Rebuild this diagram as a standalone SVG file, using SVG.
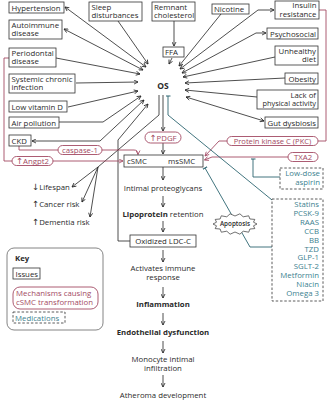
<svg xmlns="http://www.w3.org/2000/svg" width="331" height="400" viewBox="0 0 331 400">
<style>
text{font-family:"Open Sans","Liberation Sans",sans-serif;font-size:7.8px;fill:#2a2a2a}
.ar{font-family:"DejaVu Sans",sans-serif;font-size:8.5px}
.b{fill:#fff;stroke:#333;stroke-width:0.8}
.p{fill:#fff;stroke:#a34a63;stroke-width:0.9}
.d{fill:#fff;stroke:#333;stroke-width:0.8;stroke-dasharray:2.5 1.8}
.m{fill:#a34a63}
.t{fill:#3d7f8f}
.r{text-anchor:end}
.c{text-anchor:middle}
.bd{font-weight:bold}
.k{fill:none;stroke:#222;stroke-width:0.8}
.km{fill:none;stroke:#a34a63;stroke-width:0.9}
.kt{fill:none;stroke:#2d6570;stroke-width:0.9}
</style>
<defs>
<marker id="a" viewBox="0 0 10 10" refX="9" refY="5" markerWidth="5" markerHeight="5" markerUnits="userSpaceOnUse" orient="auto-start-reverse"><path d="M1,1 L9,5 L1,9" fill="none" stroke="#222" stroke-width="1.6"/></marker>
<marker id="am" viewBox="0 0 10 10" refX="9" refY="5" markerWidth="5" markerHeight="5" markerUnits="userSpaceOnUse" orient="auto-start-reverse"><path d="M1,1 L9,5 L1,9" fill="none" stroke="#a34a63" stroke-width="1.6"/></marker>
<marker id="tb" viewBox="0 0 4 10" refX="2" refY="5" markerWidth="2" markerHeight="5" markerUnits="userSpaceOnUse" orient="auto"><path d="M2,0 L2,10" fill="none" stroke="#2d6570" stroke-width="2"/></marker>
</defs>

<g id="connectors">
<path class="k" d="M65,7 L146,67" marker-start="url(#a)" marker-end="url(#a)"/>
<path class="k" d="M118,21 L148,64" marker-end="url(#a)"/>
<path class="k" d="M64,29 L143,70" marker-start="url(#a)" marker-end="url(#a)"/>
<path class="k" d="M56,58 L140,74" marker-end="url(#a)"/>
<path class="k" d="M76,83 L138,82" marker-end="url(#a)"/>
<path class="k" d="M68,107 L138,91" marker-end="url(#a)"/>
<path class="k" d="M59,122 L103,122 L141,96" marker-end="url(#a)"/>
<path class="k" d="M32,141 L100,141 L144,100" marker-start="url(#a)" marker-end="url(#a)"/>
<path class="k" d="M130,241 L118,241 L118,140 L148,104" marker-end="url(#a)"/>
<path class="k" d="M221,14 L179,66" marker-end="url(#a)"/>
<path class="k" d="M274,10 L258,10 L180,69" marker-start="url(#a)" marker-end="url(#a)"/>
<path class="k" d="M266,33 L256,33 L182,73" marker-start="url(#a)" marker-end="url(#a)"/>
<path class="k" d="M275,57 L183,77" marker-end="url(#a)"/>
<path class="k" d="M285,78 L185,83" marker-end="url(#a)"/>
<path class="k" d="M257,97 L185,90" marker-end="url(#a)"/>
<path class="k" d="M186,97 L264,121" marker-start="url(#a)" marker-end="url(#a)"/>
<path class="k" d="M174,21 L174,46" marker-end="url(#a)"/>
<path class="k" d="M172,58 L169,64" marker-end="url(#a)"/>
<path class="k" d="M159,95 L159,115 L98,167 L72,187" marker-end="url(#a)"/>
<path class="k" d="M98,167 L82,202" marker-end="url(#a)"/>
<path class="k" d="M98,167 L90,217" marker-end="url(#a)"/>
<path class="k" d="M163,95 L163,131" marker-end="url(#a)"/>
<path class="k" d="M163,143 L163,154" marker-end="url(#a)"/>
<path class="k" d="M151,161 L166,161" marker-end="url(#a)"/>
<path class="k" d="M163,167 L163,180" marker-end="url(#a)"/>
<path class="k" d="M163,196 L163,207" marker-end="url(#a)"/>
<path class="k" d="M163,221 L163,232" marker-end="url(#a)"/>
<path class="k" d="M163,250 L163,262" marker-end="url(#a)" stroke-width="1.1"/>
<path class="k" d="M163,287 L163,298" marker-end="url(#a)"/>
<path class="k" d="M163,313 L163,325" marker-end="url(#a)"/>
<path class="k" d="M163,341 L163,353" marker-end="url(#a)"/>
<path class="k" d="M163,375 L163,387" marker-end="url(#a)"/>
<path class="km" d="M9,58 L4,58 L4,161 L123,161" marker-end="url(#am)"/>
<path class="km" d="M19,146 L19,150 L134,150 Q138,150 138,154.5" marker-end="url(#am)"/>
<path class="km" d="M319,10 L326,10 L326,141 L318,141"/>
<path class="km" d="M227,141 L219,141 L205,156" marker-end="url(#am)"/>
<path class="km" d="M288,157 L212,157 L204.5,160" marker-end="url(#am)"/>
<path class="kt" d="M272,200 L168,115 L168,96" marker-end="url(#tb)"/>
<path class="kt" d="M280,177 L253,177 L253,159" marker-end="url(#tb)"/>
<path class="kt" d="M303,247 L250,247 L205,168" marker-end="url(#tb)"/>
</g>

<g id="hypertension"><rect class="b" x="9" y="2" width="55" height="11"/><text x="11.5" y="10.5">Hypertension</text></g>
<g id="sleep"><rect class="b" x="89" y="2" width="53" height="19"/><text x="91.5" y="9.5">Sleep</text><text x="91.5" y="18">disturbances</text></g>
<g id="remnant"><rect class="b" x="152" y="2" width="43" height="19"/><text x="154" y="9.5">Remnant</text><text x="154" y="18">cholesterol</text></g>
<g id="nicotine"><rect class="b" x="212" y="4" width="37" height="10"/><text x="214" y="11.8">Nicotine</text></g>
<g id="insulin"><rect class="b" x="275" y="1" width="44" height="18"/><text class="r" x="316.5" y="8">Insulin</text><text class="r" x="316.5" y="16.5">resistance</text></g>
<g id="autoimmune"><rect class="b" x="9" y="20" width="53" height="19"/><text x="11.5" y="27.5">Autoimmune</text><text x="11.5" y="36">disease</text></g>
<g id="periodontal"><rect class="b" x="9" y="48" width="47" height="19"/><text x="11.5" y="55.5">Periodontal</text><text x="11.5" y="64">disease</text></g>
<g id="systemic"><rect class="b" x="9" y="74" width="66" height="19"/><text x="11.5" y="81.5">Systemic chronic</text><text x="11.5" y="90">infection</text></g>
<g id="vitd"><rect class="b" x="9" y="101" width="58" height="11"/><text x="11.5" y="109.5">Low vitamin D</text></g>
<g id="air"><rect class="b" x="9" y="117" width="50" height="11"/><text x="11.5" y="125.5">Air pollution</text></g>
<g id="ckd"><rect class="b" x="9" y="135" width="22" height="11"/><text x="11.5" y="143.5">CKD</text></g>
<g id="ffa"><rect class="b" x="163" y="47" width="21" height="10"/><text x="165" y="55">FFA</text></g>
<g id="psychosocial"><rect class="b" x="267" y="28" width="51" height="11"/><text class="r" x="316" y="36.5">Psychosocial</text></g>
<g id="diet"><rect class="b" x="275" y="46" width="43" height="19"/><text class="r" x="316" y="53.5">Unhealthy</text><text class="r" x="316" y="62">diet</text></g>
<g id="obesity"><rect class="b" x="285" y="73" width="33" height="11"/><text class="r" x="316" y="81.5">Obesity</text></g>
<g id="activity"><rect class="b" x="257" y="90" width="61" height="19"/><text class="r" x="316" y="97.5">Lack of</text><text class="r" x="316" y="106" style="font-size:7.4px">physical activity</text></g>
<g id="gut"><rect class="b" x="265" y="117" width="53" height="11"/><text class="r" x="316" y="125.5">Gut dysbiosis</text></g>
<g id="os"><text class="c bd" x="163" y="89" style="font-size:8.5px">OS</text></g>
<g id="pdgf"><rect class="p" x="145" y="132" width="36" height="11" rx="5.5"/><text class="c m" x="163" y="140.5"><tspan class="ar">↑</tspan>PDGF</text></g>
<g id="smc"><rect class="b" x="124" y="155" width="79" height="12"/><text x="127" y="164">cSMC</text><text x="168" y="164">msSMC</text></g>
<g id="caspase"><rect class="p" x="58" y="145.5" width="44" height="9" rx="4.5"/><text class="c m" x="80" y="153">caspase-1</text></g>
<g id="angpt2"><rect class="p" x="12" y="156.5" width="41" height="9" rx="4.5"/><text class="c m" x="32.5" y="164"><tspan class="ar">↑</tspan>Angpt2</text></g>
<g id="pkc"><rect class="p" x="227" y="136.5" width="91" height="9" rx="4.5"/><text class="c m" x="272.5" y="144" style="font-size:7.6px">Protein kinase C (PKC)</text></g>
<g id="txa2"><rect class="p" x="288" y="152.5" width="30" height="9" rx="4.5"/><text class="c m" x="303" y="160">TXA2</text></g>
<g id="aspirin"><rect class="d" x="280" y="168" width="43" height="21"/><text class="r t" x="320" y="176">Low-dose</text><text class="r t" x="320" y="185">aspirin</text></g>
<g id="medications"><rect class="d" x="272" y="199" width="51" height="102"/>
<text class="r t" x="319" y="207">Statins</text>
<text class="r t" x="319" y="215.9">PCSK-9</text>
<text class="r t" x="319" y="224.8">RAAS</text>
<text class="r t" x="319" y="233.7">CCB</text>
<text class="r t" x="319" y="242.6">BB</text>
<text class="r t" x="319" y="251.5">TZD</text>
<text class="r t" x="319" y="260.4">GLP-1</text>
<text class="r t" x="319" y="269.3">SGLT-2</text>
<text class="r t" x="319" y="278.2">Metformin</text>
<text class="r t" x="319" y="287.1">Niacin</text>
<text class="r t" x="319" y="296">Omega 3</text></g>
<g id="apoptosis"><path d="M257,224 L253.5,225.8 L254.8,228.6 L249.9,229 L248.7,232.2 L243.2,231.2 L239.9,234.2 L235,232 L230.1,234.2 L226.8,231.2 L221.3,232.2 L220.1,229 L215.2,228.6 L216.5,225.8 L213,224 L216.5,222.2 L215.2,219.4 L220.1,219 L221.3,215.8 L226.8,216.8 L230.1,213.8 L235,216 L239.9,213.8 L243.2,216.8 L248.7,215.8 L249.9,219 L254.8,219.4 L253.5,222.2 Z" fill="#fff" stroke="#333" stroke-width="0.7"/><text class="c" x="235" y="226.3" style="font-size:6.3px;font-weight:600">Apoptosis</text></g>
<g id="intimal"><text class="c" x="163" y="191">Intimal proteoglycans</text></g>
<g id="lipoprotein"><text class="c" x="163" y="217"><tspan class="bd">Lipoprotein</tspan> retention</text></g>
<g id="oxidized"><rect class="b" x="130" y="235" width="66" height="12"/><text class="c" x="163" y="244">Oxidized LDC-C</text></g>
<g id="immune"><text class="c" x="163" y="271">Activates immune</text><text class="c" x="163" y="280">response</text></g>
<g id="inflammation"><text class="c bd" x="163" y="307">Inflammation</text></g>
<g id="endothelial"><text class="c bd" x="163" y="335">Endothelial dysfunction</text></g>
<g id="monocyte"><text class="c" x="163" y="362">Monocyte intimal</text><text class="c" x="163" y="371">infiltration</text></g>
<g id="atheroma"><text class="c" x="163" y="398">Atheroma development</text></g>
<g id="lifespan"><text x="32" y="190"><tspan class="ar">↓</tspan>Lifespan</text></g>
<g id="cancer"><text x="32" y="207"><tspan class="ar">↑</tspan>Cancer risk</text></g>
<g id="dementia"><text x="32" y="225"><tspan class="ar">↑</tspan>Dementia risk</text></g>
<g id="key"><rect x="7" y="248" width="96" height="82" rx="7" fill="#fff" stroke="#666" stroke-width="0.8"/>
<text class="bd" x="15" y="261">Key</text>
<rect class="b" x="13" y="268" width="27" height="11"/><text x="15.5" y="276.5">Issues</text>
<rect class="p" x="13" y="287" width="85" height="22" rx="7"/><text class="m" x="16" y="295.5">Mechanisms causing</text><text class="m" x="16" y="304.5">cSMC transformation</text>
<rect class="d" x="13" y="312" width="52" height="11"/><text class="t" x="15" y="320.5">Medications</text></g>
</svg>
